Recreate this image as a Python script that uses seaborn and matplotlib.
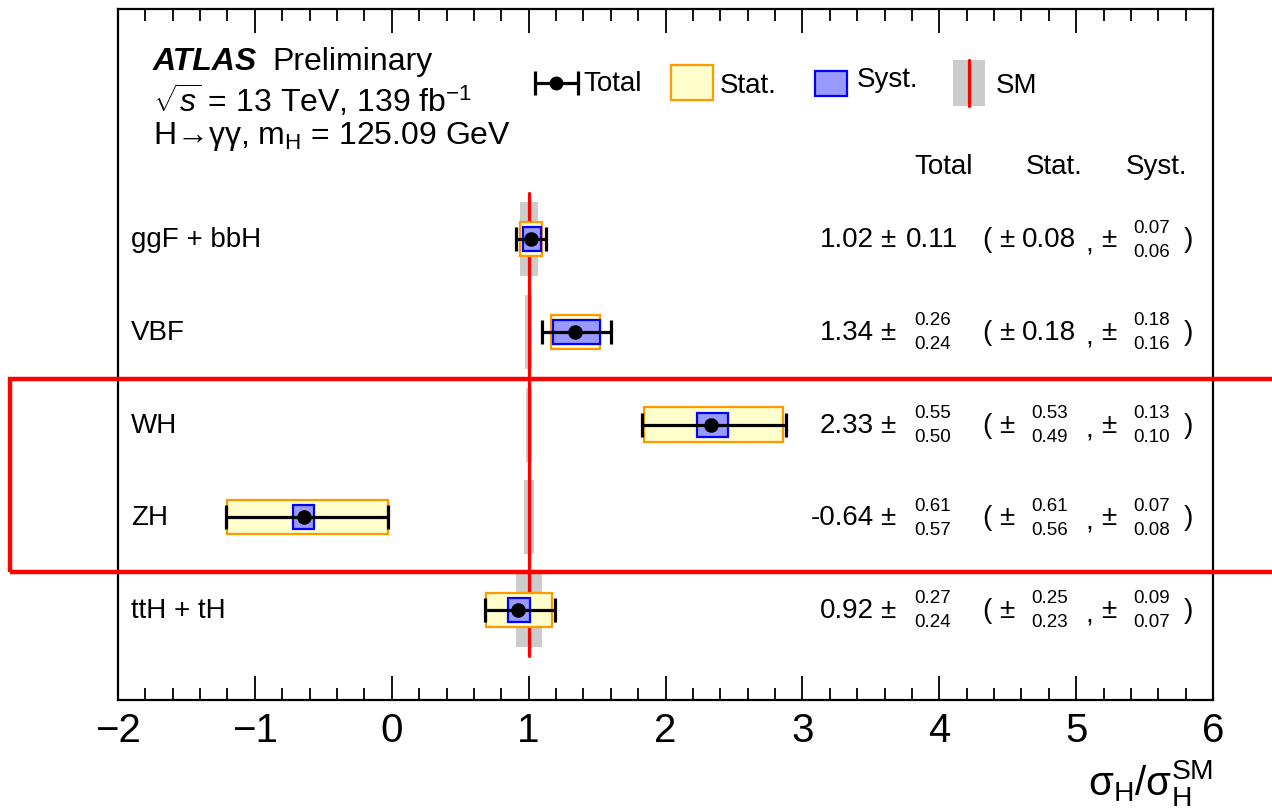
import numpy as np
import pandas as pd
import seaborn as sns
import matplotlib
matplotlib.use("Agg")
import matplotlib.pyplot as plt
from matplotlib.patches import Rectangle
from matplotlib.ticker import MultipleLocator

# ---------------- data ----------------
processes = ["ggF + bbH", "VBF", "WH", "ZH", "ttH + tH"]
mu        = [1.02, 1.34, 2.33, -0.64, 0.92]
tot_up    = [0.11, 0.26, 0.55, 0.61, 0.27]
tot_dn    = [0.11, 0.24, 0.50, 0.57, 0.24]
stat_up   = [0.08, 0.18, 0.53, 0.61, 0.25]
stat_dn   = [0.08, 0.18, 0.49, 0.56, 0.23]
syst_up   = [0.07, 0.18, 0.13, 0.07, 0.09]
syst_dn   = [0.06, 0.16, 0.10, 0.08, 0.07]
theo_unc  = [0.066, 0.027, 0.022, 0.037, 0.095]
row_pos   = [5, 4, 3, 2, 1]
x_ticks   = [-2, -1, 0, 1, 2, 3, 4, 5, 6]

df = pd.DataFrame(dict(process=processes, mu=mu, tot_up=tot_up, tot_dn=tot_dn,
                       stat_up=stat_up, stat_dn=stat_dn, syst_up=syst_up,
                       syst_dn=syst_dn, theo=theo_unc, y=row_pos))

# ---------------- style ----------------
sns.set_style("ticks")
plt.rcParams["font.family"] = ["Liberation Sans", "DejaVu Sans"]
plt.rcParams["mathtext.fontset"] = "custom"
plt.rcParams["mathtext.rm"] = "Liberation Sans"
plt.rcParams["mathtext.it"] = "Liberation Sans:italic"
plt.rcParams["mathtext.bf"] = "Liberation Sans:bold"
for k in ["text.color", "axes.labelcolor", "xtick.color", "ytick.color",
          "axes.edgecolor"]:
    plt.rcParams[k] = "black"

STAT_FC, STAT_EC = "#ffffcc", "#ff9900"
SYST_FC, SYST_EC = "#9999ff", "#0000ff"
BAND = "#cccccc"
RED = "#ff0000"

fig = plt.figure(figsize=(12.72, 8.12), dpi=100)
ax = fig.add_axes([118 / 1272, 1 - 701 / 812, (1213 - 118) / 1272, (701 - 10) / 812])
ax.set_xlim(-2, 6)
ax.set_ylim(0.027, 7.486)

# SM theory bands and SM line
ax.barh(df.y, 2 * df.theo, left=1 - df.theo, height=0.8, color=BAND, lw=0, zorder=1)
ax.plot([1, 1], [0.5, 5.5], color=RED, lw=2.3, zorder=2)

# stat boxes
ax.barh(df.y, df.stat_up + df.stat_dn, left=df.mu - df.stat_dn, height=0.37,
        color=STAT_FC, edgecolor=STAT_EC, lw=1.6, zorder=3)
# syst boxes
ax.barh(df.y, df.syst_up + df.syst_dn, left=df.mu - df.syst_dn, height=0.26,
        color=SYST_FC, edgecolor=SYST_EC, lw=1.6, zorder=4)
# total error bars
ax.errorbar(df.mu, df.y, xerr=[df.tot_dn, df.tot_up], fmt="none", ecolor="black",
            elinewidth=2.3, capsize=8.6, capthick=2.3, zorder=5)
# central values
sns.scatterplot(data=df, x="mu", y="y", color="black", s=110, edgecolor="black",
                linewidth=0, zorder=6, ax=ax, legend=False)

# row labels
for name, y in zip(df.process, df.y):
    ax.text(-1.905, y, name, fontsize=20, va="center", ha="left")

# numerical results
SMALL = 13.5
BIG = 20
dy = 0.13


def pm_value(xc, y, up, dn):
    if abs(up - dn) < 1e-9:
        ax.text(xc, y, f"{up:.2f}", fontsize=BIG, ha="center", va="center")
    else:
        ax.text(xc, y + dy, f"{up:.2f}", fontsize=SMALL, ha="center", va="center")
        ax.text(xc, y - dy, f"{dn:.2f}", fontsize=SMALL, ha="center", va="center")


for _, r in df.iterrows():
    y = r.y
    ax.text(3.522, y, f"{r.mu:.2f}", fontsize=BIG, ha="right", va="center")
    ax.text(3.624, y, "±", fontsize=BIG, ha="center", va="center")
    pm_value(3.95, y, r.tot_up, r.tot_dn)
    ax.text(4.345, y, "(", fontsize=BIG, ha="center", va="center")
    ax.text(4.49, y, "±", fontsize=BIG, ha="center", va="center")
    pm_value(4.805, y, r.stat_up, r.stat_dn)
    ax.text(5.10, y - 0.05, ",", fontsize=BIG, ha="center", va="center")
    ax.text(5.235, y, "±", fontsize=BIG, ha="center", va="center")
    pm_value(5.553, y, r.syst_up, r.syst_dn)
    ax.text(5.823, y, ")", fontsize=BIG, ha="center", va="center")

# column headers
for xh, lab in zip([4.034, 4.837, 5.59], ["Total", "Stat.", "Syst."]):
    ax.text(xh, 5.789, lab, fontsize=BIG, ha="center", va="center")

# ATLAS label
ax.text(-1.744, 6.92, "ATLAS", fontsize=23, fontweight="bold", style="italic",
        ha="left", va="center")
ax.text(-0.875, 6.92, "Preliminary", fontsize=23, ha="left", va="center")
ax.text(-1.744, 6.51, r"$\sqrt{s}$ = 13 TeV, 139 fb$^{\mathrm{-1}}$", fontsize=23,
        ha="left", va="center")
ax.text(-1.744, 6.12, "H→γγ, m$_{\\mathrm{H}}$ = 125.09 GeV", fontsize=23,
        ha="left", va="center")

# legend (drawn by hand, ROOT style)
ly = 6.686
ax.errorbar([1.203], [ly], xerr=[[0.157], [0.157]], fmt="o", color="black",
            ms=9, elinewidth=2.3, capsize=8.6, capthick=2.3, clip_on=False)
ax.text(1.40, ly, "Total", fontsize=20, ha="left", va="center")
ax.add_patch(Rectangle((2.04, 6.50), 0.31, 0.38, fc=STAT_FC, ec=STAT_EC, lw=1.6))
ax.text(2.40, 6.665, "Stat.", fontsize=20, ha="left", va="center")
ax.add_patch(Rectangle((3.091, 6.55), 0.234, 0.27, fc=SYST_FC, ec=SYST_EC, lw=1.6))
ax.text(3.40, 6.73, "Syst.", fontsize=20, ha="left", va="center")
ax.add_patch(Rectangle((4.099, 6.44), 0.234, 0.495, fc=BAND, lw=0))
ax.plot([4.216, 4.216], [6.44, 6.935], color=RED, lw=2.3)
ax.text(4.413, 6.665, "SM", fontsize=20, ha="left", va="center")

# axes styling
ax.set_xticks(x_ticks)
ax.set_xticklabels([f"{t}".replace("-", "−") for t in x_ticks])
ax.xaxis.set_minor_locator(MultipleLocator(0.2))
ax.tick_params(axis="x", which="major", direction="in", length=17, width=1.3,
               top=True, bottom=True, labelsize=29, pad=8, colors="black")
ax.tick_params(axis="x", which="minor", direction="in", length=8.5, width=1.3,
               top=True, bottom=True, colors="black")
ax.tick_params(axis="y", left=False, right=False, labelleft=False)
ax.set_ylabel("")
for sp in ax.spines.values():
    sp.set_visible(True)
    sp.set_linewidth(1.6)
    sp.set_color("black")
ax.set_xlabel(r"σ$_{\mathrm{H}}$/σ$_{\mathrm{H}}^{\mathrm{SM}}$", fontsize=29,
              loc="right")
ax.xaxis.set_label_coords(1.0, -0.083)

# red highlight frame around WH / ZH
fig.add_artist(Rectangle((10 / 1272, 1 - 573 / 812), 1.1, (573 - 380) / 812,
                         transform=fig.transFigure, fill=False, ec=RED, lw=3.2,
                         clip_on=False))

fig.savefig("out.png", dpi=100)
